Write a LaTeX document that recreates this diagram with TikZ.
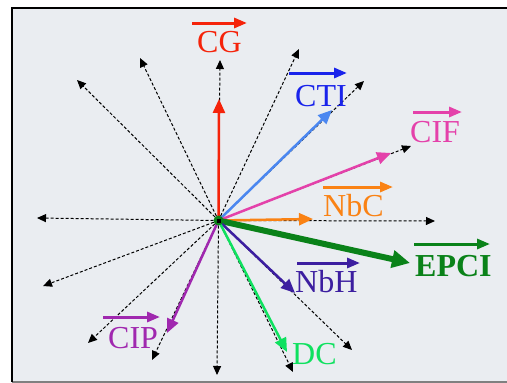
\documentclass[tikz,border=0pt]{standalone}
\usepackage{fontspec}
\setmainfont{Liberation Serif}
\usetikzlibrary{arrows.meta}
\definecolor{bgc}{RGB}{234,237,241}
\definecolor{cgc}{RGB}{245,35,10}
\definecolor{ctic}{RGB}{25,35,235}
\definecolor{ctiv}{RGB}{75,135,240}
\definecolor{cifc}{RGB}{228,65,170}
\definecolor{nbcc}{RGB}{250,130,20}
\definecolor{epcic}{RGB}{10,130,25}
\definecolor{nbhc}{RGB}{60,30,160}
\definecolor{dcc}{RGB}{15,225,95}
\definecolor{cipc}{RGB}{160,40,175}
\tikzset{
  dash arrow/.style={line width=1pt, dash pattern=on 3pt off 2pt, -{Triangle[length=9pt,width=8pt]}},
  vec/.style={line width=2.5pt, -{Triangle[length=14pt,width=12pt]}},
  bigvec/.style={line width=6pt, -{Triangle[length=18pt,width=17pt]}},
  over/.style={line width=3pt, -{Triangle[length=13pt,width=10pt]}},
  lbl/.style={inner sep=0pt, anchor=base west, font=\fontsize{32}{32}\selectfont},
}
\begin{document}
\begin{tikzpicture}[x=1pt,y=-1pt]
\useasboundingbox (0,0) rectangle (507,383);
% frame
\fill[bgc] (12,8) rectangle (507,382);
\draw[black!50, line width=2pt] (12,381.5) -- (507,381.5);
\draw[black, line width=1.8pt] (12,382) -- (12,8) -- (507,8);
% centre
\coordinate (c) at (218.5,220.5);
% dashed directions
\coordinate (d1) at (220,60);
\coordinate (d2) at (140,58);
\coordinate (d3) at (77,80);
\coordinate (d4) at (37,218);
\coordinate (d5) at (43,286);
\coordinate (d6) at (88,343);
\coordinate (d7) at (152,360);
\coordinate (d8) at (217,375);
\coordinate (d9) at (293,372);
\coordinate (d10) at (352,350);
\coordinate (d11) at (435,221);
\coordinate (d12) at (411,146);
\coordinate (d13) at (364,81);
\coordinate (d14) at (299,49);
\foreach \i in {1,...,14} \draw[dash arrow] (c) -- (d\i);
% vector tips
\coordinate (tCG) at (219,99);
\coordinate (tCTI) at (332,110);
\coordinate (tCIF) at (391,153);
\coordinate (tNbC) at (313,219);
\coordinate (tEPCI) at (410,263);
\coordinate (tNbH) at (295,293);
\coordinate (tDC) at (287,352);
\coordinate (tCIP) at (167,333);
\draw[vec, cgc] (c) -- (tCG);
\draw[vec, ctiv] (c) -- (tCTI);
\draw[vec, cifc] (c) -- (tCIF);
\draw[vec, nbcc] (c) -- (tNbC);
\draw[bigvec, epcic] (c) -- (tEPCI);
\draw[vec, nbhc] (c) -- (tNbH);
\draw[vec, dcc] (c) -- (tDC);
\draw[vec, cipc] (c) -- (tCIP);
% centre mark
\node[circle, fill=epcic, minimum size=10pt, inner sep=0pt] (cm) at (c) {};
\node[fill=black, minimum size=4pt, inner sep=0pt] (cs) at (c) {};
% labels
\node[lbl, text=cgc] (lCG) at (197,52) {CG};
\node[lbl, text=ctic] (lCTI) at (295,106) {CTI};
\node[lbl, text=cifc] (lCIF) at (410,142) {CIF};
\node[lbl, text=nbcc] (lNbC) at (323,216) {NbC};
\node[lbl, text=epcic, font=\fontsize{32}{32}\selectfont\bfseries] (lEPCI) at (415,276) {EPCI};
\node[lbl, text=nbhc] (lNbH) at (295,292) {NbH};
\node[lbl, text=dcc] (lDC) at (292,364) {DC};
\node[lbl, text=cipc] (lCIP) at (108,348) {CIP};
% over-arrows
\coordinate (aCG1) at (192,23); \coordinate (aCG2) at (247,23);
\coordinate (aCTI1) at (289,73); \coordinate (aCTI2) at (347,73);
\coordinate (aCIF1) at (413,112); \coordinate (aCIF2) at (462,112);
\coordinate (aNbC1) at (323,187); \coordinate (aNbC2) at (393,187);
\coordinate (aEPCI1) at (414,244); \coordinate (aEPCI2) at (490,244);
\coordinate (aNbH1) at (297,263); \coordinate (aNbH2) at (360,263);
\coordinate (aCIP1) at (103,317); \coordinate (aCIP2) at (160,317);
\draw[over, cgc] (aCG1) -- (aCG2);
\draw[over, ctic] (aCTI1) -- (aCTI2);
\draw[over, cifc] (aCIF1) -- (aCIF2);
\draw[over, nbcc] (aNbC1) -- (aNbC2);
\draw[over, epcic] (aEPCI1) -- (aEPCI2);
\draw[over, nbhc] (aNbH1) -- (aNbH2);
\draw[over, cipc] (aCIP1) -- (aCIP2);
\end{tikzpicture}
\end{document}
